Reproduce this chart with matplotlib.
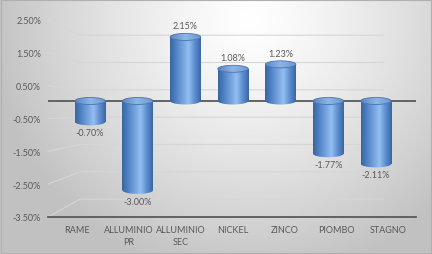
import numpy as np
import matplotlib
matplotlib.use("Agg")
import matplotlib.pyplot as plt
from matplotlib.patches import Ellipse, Rectangle
from matplotlib.colors import LinearSegmentedColormap
import matplotlib.transforms as mtransforms

categories = ["RAME", "ALLUMINIO\nPR", "ALLUMINIO\nSEC", "NICKEL", "ZINCO", "PIOMBO", "STAGNO"]
values = [-0.70, -3.00, 2.15, 1.08, 1.23, -1.77, -2.11]
labels = ["-0.70%", "-3.00%", "2.15%", "1.08%", "1.23%", "-1.77%", "-2.11%"]
yticks = [-3.5, -2.5, -1.5, -0.5, 0.5, 1.5, 2.5]
ytick_labels = ["-3.50%", "-2.50%", "-1.50%", "-0.50%", "0.50%", "1.50%", "2.50%"]

plt.rcParams['font.family'] = ['Lato', 'DejaVu Sans']
TXT = '#595959'

W, H = 432, 255
fig = plt.figure(figsize=(W / 100, H / 100), dpi=100)

# background radial gradient
bg = fig.add_axes([0, 0, 1, 1], zorder=-10)
yy, xx = np.mgrid[0:H, 0:W]
d = np.sqrt(((xx - 250) / 260.0) ** 2 + ((yy - 20) / 260.0) ** 2)
shade = np.clip(1.0 - 0.24 * d ** 1.3, 0.76, 1.0)
bg.imshow(np.dstack([shade, shade, shade]), extent=[0, 1, 0, 1], aspect='auto', origin='upper')
bg.set_axis_off()
fig.patches.append(Rectangle((0.002, 0.004), 0.995, 0.992, transform=fig.transFigure,
                             fill=False, edgecolor='#b0b0b0', lw=0.8))

left_px, right_px, top_px, bot_px = 48, 416, 21, 218
pos = [left_px / W, (H - bot_px) / H, (right_px - left_px) / W, (bot_px - top_px) / H]
ax = fig.add_axes(pos)
ax.set_facecolor('none')
ax.set_ylim(-3.5, 2.5)
ax.set_yticks(yticks)
ax.set_yticklabels(ytick_labels)
xs = np.arange(len(categories))
ax.set_xlim(-0.561, 6.538)
ax.set_xticks(xs)
ax.set_xticklabels(categories, linespacing=1.35)
ax.tick_params(axis='both', length=0, labelsize=6.5, labelcolor=TXT)
ax.tick_params(axis='y', pad=5)
ax.tick_params(axis='x', pad=6)
for s in ['top', 'right', 'left']:
    ax.spines[s].set_visible(False)
ax.spines['bottom'].set_color('#595959')
ax.spines['bottom'].set_linewidth(1.3)

# perspective gridlines (front tick value -> back wall)
trans = mtransforms.blended_transform_factory(ax.transAxes, ax.transData)
xw = (80 - left_px) / (right_px - left_px)
xe = (383 - left_px) / (right_px - left_px)
for v in yticks:
    vb = 0.832 * v - 0.043
    ax.plot([0, xw, xe], [v, vb, vb], transform=trans, color='#d6d6d6', lw=0.8, zorder=0, clip_on=False)

# bars axis
axb = fig.add_axes(pos, sharex=None)
axb.set_facecolor('none')
axb.set_axis_off()
xlim_b = (-0.884, 6.842)
ylim_b = (-3.893, 2.718)
axb.plot(xlim_b, [0, 0], color='#595959', lw=1.3, zorder=1)

cmap = LinearSegmentedColormap.from_list('cyl', [
    (0.0, '#3a659c'), (0.15, '#4a7cbf'), (0.45, '#7aa8e2'), (0.6, '#93bff2'),
    (0.8, '#5e8fd0'), (1.0, '#3c69a4')])
capmap = LinearSegmentedColormap.from_list('cap', [
    (0.0, '#5a86c2'), (0.5, '#8fb6e8'), (1.0, '#6b96d0')])
grad = np.linspace(0, 1, 64).reshape(1, -1)
w = 0.64
h = 0.235
bars = axb.bar(xs, values, width=w, color='none', edgecolor='none', zorder=2)
for b, x, v in zip(bars, xs, values):
    x0 = x - w / 2
    ext = [x0, x0 + w, min(0, v) - h, max(0, v) + h]
    im = axb.imshow(grad, cmap=cmap, extent=ext, aspect='auto', zorder=2, interpolation='bilinear')
    im.set_clip_path(b)
    # rounded end at the base/bottom
    lo = min(0, v)
    e_lo = Ellipse((x, lo), w, h, facecolor='none', edgecolor='none')
    axb.add_patch(e_lo)
    im2 = axb.imshow(grad, cmap=cmap, extent=ext, aspect='auto', zorder=2, interpolation='bilinear')
    im2.set_clip_path(e_lo)
    # top cap
    hi = max(0, v)
    e_hi = Ellipse((x, hi), w, h, facecolor='none', edgecolor='#4a74ad', lw=0.6, zorder=4)
    axb.add_patch(e_hi)
    im3 = axb.imshow(grad, cmap=capmap, extent=ext, aspect='auto', zorder=3, interpolation='bilinear')
    im3.set_clip_path(e_hi)

for x, v, t in zip(xs, values, labels):
    off = 8 if v > 0 else -8
    axb.annotate(t, (x, v), xytext=(0, off), textcoords='offset points',
                 ha='center', va='center', fontsize=6.5, color=TXT)

axb.set_xlim(*xlim_b)
axb.set_ylim(*ylim_b)

fig.savefig('out.png', dpi=100)
